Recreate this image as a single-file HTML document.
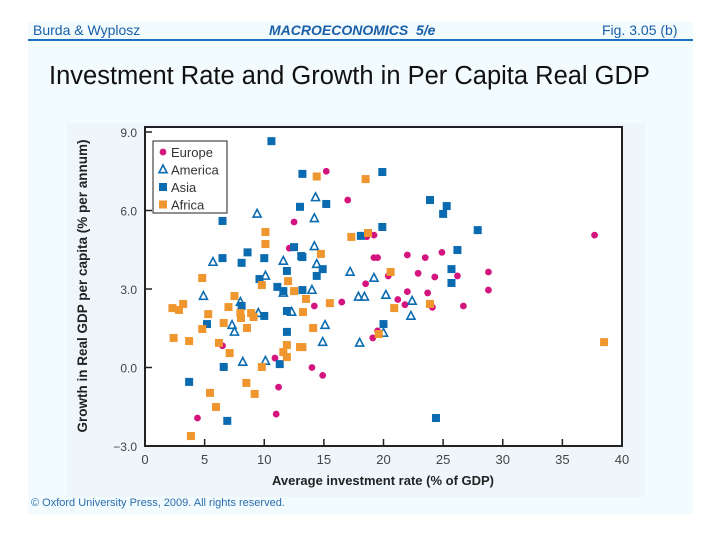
<!DOCTYPE html>
<html><head><meta charset="utf-8"><style>
body{margin:0;width:720px;height:540px;background:#fff;position:relative;overflow:hidden;font-family:"Liberation Sans",sans-serif}
.slide{position:absolute;left:28px;top:22px;width:665px;height:492px;background:#f2fbfd}
.hdr{position:absolute;top:22px;font-size:14px;color:#1a5fa8}
.rule{position:absolute;left:28px;top:39px;width:665px;height:2px;background:#1a6fc0}
.title{position:absolute;left:49px;top:62px;font-size:25.5px;color:#111}
.panel{position:absolute;left:67px;top:123px;width:578px;height:374px;background:#eef6fb}
.foot{position:absolute;left:31px;top:497px;font-size:11px;color:#2a6db0}
</style></head><body>
<div class="slide"></div>
<div class="hdr" style="left:33px">Burda &amp; Wyplosz</div>
<div class="hdr" style="left:269px;font-weight:bold;font-style:italic">MACROECONOMICS&nbsp; 5/e</div>
<div class="hdr" style="left:602px">Fig. 3.05 (b)</div>
<div class="rule"></div>
<div class="title">Investment Rate and Growth in Per Capita Real GDP</div>
<div class="panel"></div>
<div class="foot">© Oxford University Press, 2009. All rights reserved.</div>
<svg id="chart" width="720" height="540" style="position:absolute;left:0;top:0"></svg>
<script>
const xTicks=[0,5,10,15,20,25,30,35,40];
const yTicks=[-3,0,3,6,9];
const yTickLabels=["−3.0","0.0","3.0","6.0","9.0"];
const europeX=[12.5,12.1,6.5,10.9,11.2,4.4,11.0,15.2,17.0,18.6,19.2,37.7,19.2,19.5,22.0,23.5,24.9,22.9,24.3,26.2,28.8,18.5,20.4,22.0,23.7,28.8,21.2,21.8,24.1,26.7,16.5,14.2,19.5,19.1,14.0,14.9];
const europeY=[5.56,4.56,0.83,0.36,-0.75,-1.93,-1.78,7.5,6.4,5.0,5.06,5.06,4.2,4.2,4.3,4.2,4.4,3.6,3.46,3.5,3.65,3.2,3.5,2.9,2.85,2.96,2.6,2.4,2.3,2.35,2.5,2.35,1.4,1.13,0.0,-0.3];
const americaX=[9.4,5.7,11.6,10.1,4.9,8.0,7.3,7.5,8.2,10.1,11.6,12.3,9.5,14.3,14.2,14.2,14.4,17.2,19.2,14.0,17.9,18.4,20.2,22.4,22.3,15.1,14.9,18.0,20.0];
const americaY=[5.87,4.03,4.07,3.5,2.73,2.5,1.62,1.36,0.21,0.25,2.85,2.12,2.08,6.5,5.7,4.63,3.95,3.65,3.42,2.96,2.7,2.7,2.77,2.54,1.97,1.62,0.97,0.94,1.32];
const asiaX=[10.6,13.2,13.0,6.5,6.5,8.6,8.1,10.0,9.6,12.5,13.1,11.9,11.1,11.6,13.2,8.1,10.0,11.9,5.2,11.9,11.3,6.6,3.7,6.9,19.9,15.2,23.9,25.3,25.0,19.9,27.9,18.1,26.2,13.2,14.9,25.7,14.4,25.7,20.0,24.4];
const asiaY=[8.65,7.4,6.14,5.6,4.18,4.4,4.0,4.18,3.38,4.6,4.26,3.69,3.08,2.92,2.96,2.35,1.97,2.16,1.66,1.36,0.13,0.02,-0.55,-2.04,7.47,6.25,6.4,6.17,5.87,5.37,5.25,5.03,4.49,4.22,3.76,3.76,3.5,3.23,1.66,-1.93];
const africaX=[10.1,10.1,4.8,12.0,12.5,7.5,2.3,2.85,3.2,7.0,13.5,9.8,5.3,8.0,8.05,8.9,9.1,8.55,6.6,4.8,2.4,3.7,6.2,7.1,11.9,11.6,11.9,13.0,9.8,8.5,9.2,5.45,5.95,3.85,14.4,18.5,17.3,18.7,14.75,20.6,15.5,13.25,20.9,23.9,14.1,19.6,13.2,38.5];
const africaY=[5.18,4.72,3.42,3.3,2.92,2.73,2.27,2.2,2.43,2.31,2.62,3.15,2.04,2.08,1.89,2.08,1.93,1.51,1.7,1.47,1.13,1.01,0.94,0.55,0.86,0.59,0.4,0.78,0.02,-0.59,-1.01,-0.97,-1.51,-2.62,7.3,7.2,4.99,5.14,4.34,3.65,2.46,2.12,2.27,2.43,1.51,1.28,0.78,0.97];

const X0=145,X1=622,Y0=446,Y1=132;
const sx=v=>X0+(v-0)/(40-0)*(X1-X0);
const sy=v=>Y0-(v+3)/(12)*(Y0-Y1);
const NS="http://www.w3.org/2000/svg";
const svg=document.getElementById('chart');
function mk(tag,at,parent){const e=document.createElementNS(NS,tag);for(const k in at)e.setAttribute(k,at[k]);(parent||svg).appendChild(e);return e;}
const plot=mk('rect',{x:X0,y:127,width:X1-X0,height:Y0-127,fill:'#fff',stroke:'#222','stroke-width':2});


xTicks.forEach(t=>{
 const l=mk('line',{x1:sx(t),x2:sx(t),y1:Y0,y2:Y0-7,stroke:'#222','stroke-width':1.5});
 
 
 const tx=mk('text',{x:sx(t),y:464,'text-anchor':'middle','font-size':13,fill:'#444'});tx.textContent=t;
 
 
});
yTicks.forEach((t,i)=>{
 const l=mk('line',{x1:X0,x2:X0+7,y1:sy(t),y2:sy(t),stroke:'#222','stroke-width':1.5});
 
 
 const tx=mk('text',{x:137,y:sy(t)+5,'text-anchor':'end','font-size':12,fill:'#444'});tx.textContent=yTickLabels[i];
 
 
});
const xt=mk('text',{x:383,y:485,'text-anchor':'middle','font-size':13,'font-weight':'bold',fill:'#222'});xt.textContent='Average investment rate (% of GDP)';


const yt=mk('text',{x:0,y:0,'text-anchor':'middle','font-size':13.5,'font-weight':'bold',fill:'#222',transform:'translate(87,286) rotate(-90)'});yt.textContent='Growth in Real GDP per capita (% per annum)';


const MAG='#d4157e',BLU='#0b6bb0',ORA='#f0962e';
function circ(x,y,name){const e=mk('circle',{cx:x,cy:y,r:3.4,fill:MAG});}
function tri(x,y,name){const e=mk('path',{d:`M${x},${y-4.5}L${x+4},${y+3.2}L${x-4},${y+3.2}Z`,fill:'none',stroke:BLU,'stroke-width':1.6});}
function sq(x,y,c,name){const e=mk('rect',{x:x-4,y:y-4,width:8,height:8,fill:c});}
europeX.forEach((v,i)=>circ(sx(v),sy(europeY[i]),'europe-point'));
americaX.forEach((v,i)=>tri(sx(v),sy(americaY[i]),'america-point'));
asiaX.forEach((v,i)=>sq(sx(v),sy(asiaY[i]),BLU,'asia-point'));
africaX.forEach((v,i)=>sq(sx(v),sy(africaY[i]),ORA,'africa-point'));
const lg=mk('rect',{x:153,y:141,width:74,height:72,fill:'#fff',stroke:'#222','stroke-width':1});


const names=['Europe','America','Asia','Africa'];
names.forEach((n,i)=>{
 const y=152+i*17.5;
 if(i==0)circ(163,y,'legend-marker-europe');
 if(i==1)tri(163,y,'legend-marker-america');
 if(i==2)sq(163,y,BLU,'legend-marker-asia');
 if(i==3)sq(163,y,ORA,'legend-marker-africa');
 const t=mk('text',{x:171,y:y+5,'font-size':13,fill:'#333'});t.textContent=n;
 
 
});
</script>
</body></html>
